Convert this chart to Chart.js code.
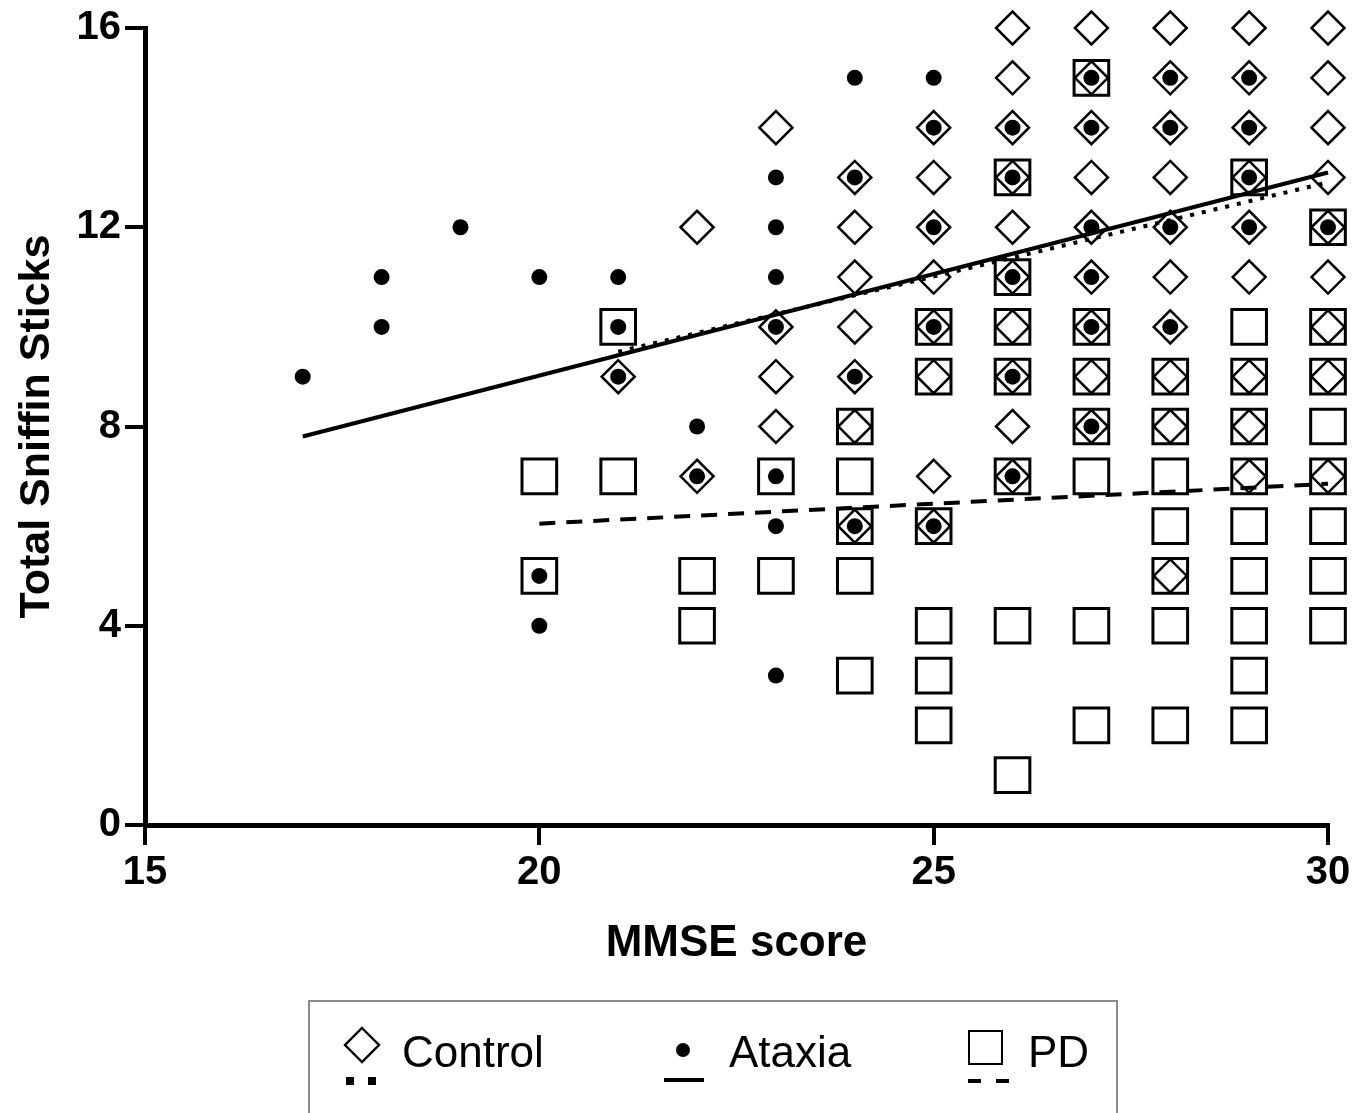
<!DOCTYPE html>
<html><head><meta charset="utf-8">
<script src="https://cdn.jsdelivr.net/npm/chart.js@4"></script>
<style>html,body{margin:0;padding:0;background:#fff;}canvas{display:block;}</style>
</head><body>
<canvas id="c" width="1367" height="1113"></canvas>
<script>
// ---- data ----
const xTicks = [15, 20, 25, 30];
const yTicks = [0, 4, 8, 12, 16];

const controlX = [21, 22, 23, 24, 25, 26, 27, 28, 29, 30];
const controlY = [
  [9],
  [12, 7],
  [14, 10, 9, 8],
  [13, 12, 11, 10, 9, 8, 6],
  [14, 13, 12, 11, 10, 9, 7, 6],
  [16, 15, 14, 13, 12, 11, 10, 9, 8, 7],
  [16, 15, 14, 13, 12, 11, 10, 9, 8],
  [16, 15, 14, 13, 12, 11, 10, 9, 8, 5],
  [16, 15, 14, 13, 12, 11, 9, 8, 7],
  [16, 15, 14, 13, 12, 11, 10, 9, 7]
];

const ataxiaX = [17, 18, 19, 20, 21, 22, 23, 24, 25, 26, 27, 28, 29, 30];
const ataxiaY = [
  [9],
  [11, 10],
  [12],
  [11, 5, 4],
  [11, 10, 9],
  [8, 7],
  [13, 12, 11, 10, 7, 6, 3],
  [15, 13, 9, 6],
  [15, 14, 12, 10, 6],
  [14, 13, 11, 9, 7],
  [15, 14, 12, 11, 10, 8],
  [15, 14, 12, 10],
  [15, 14, 13, 12],
  [12]
];

const pdX = [20, 21, 22, 23, 24, 25, 26, 27, 28, 29, 30];
const pdY = [
  [7, 5],
  [10, 7],
  [5, 4],
  [7, 5],
  [8, 7, 6, 5, 3],
  [10, 9, 6, 4, 3, 2],
  [13, 11, 10, 9, 7, 4, 1],
  [15, 10, 9, 8, 7, 4, 2],
  [9, 8, 7, 6, 5, 4, 2],
  [13, 10, 9, 8, 7, 6, 5, 4, 3, 2],
  [12, 10, 9, 8, 7, 6, 5, 4]
];

// regression lines (end points)
const controlFitX = [21, 30];
const controlFitY = [9.5, 12.9];
const ataxiaFitX = [17, 30];
const ataxiaFitY = [7.8, 13.1];
const pdFitX = [20, 30];
const pdFitY = [6.05, 6.85];

// ---- helpers ----
function cols(xs, ys) {
  const out = [];
  xs.forEach((x, i) => ys[i].forEach(y => out.push({x: x, y: y})));
  return out;
}
function pairs(xs, ys) { return xs.map((x, i) => ({x: x, y: ys[i]})); }

const FONT = "'Liberation Sans', Arial, Helvetica, sans-serif";

const legendPlugin = {
  id: 'customLegend',
  afterDraw(chart) {
    const c = chart.ctx;
    c.save();
    c.strokeStyle = '#8c8c8c';
    c.lineWidth = 2;
    c.strokeRect(309, 1001, 808, 130);
    c.strokeStyle = '#000';
    c.fillStyle = '#000';
    // Control symbol
    c.lineWidth = 2.4;
    c.beginPath();
    c.moveTo(362, 1028); c.lineTo(379, 1045); c.lineTo(362, 1062); c.lineTo(345, 1045); c.closePath();
    c.stroke();
    c.fillRect(346, 1077, 8, 8);
    c.fillRect(368, 1077, 8, 8);
    // Ataxia symbol
    c.beginPath(); c.arc(683, 1050, 7, 0, Math.PI * 2); c.fill();
    c.fillRect(664, 1078, 40, 4);
    // PD symbol
    c.lineWidth = 2;
    c.strokeRect(969, 1031, 33, 33);
    c.fillRect(968, 1079, 13, 4);
    c.fillRect(996, 1079, 13, 4);
    // texts
    c.font = '44px ' + FONT;
    c.textBaseline = 'alphabetic';
    c.textAlign = 'left';
    c.fillText('Control', 402, 1067);
    c.fillText('Ataxia', 729, 1067);
    c.fillText('PD', 1028, 1067);
    c.restore();
  }
};

new Chart(document.getElementById('c').getContext('2d'), {
  type: 'scatter',
  data: {
    datasets: [
      { label: 'Ataxia fit', type: 'line', showLine: true, data: pairs(ataxiaFitX, ataxiaFitY),
        borderColor: '#000', borderWidth: 4, pointRadius: 0, fill: false, tension: 0, order: 0, clip: false },
      { label: 'Control fit', type: 'line', showLine: true, data: pairs(controlFitX, controlFitY),
        borderColor: '#000', borderWidth: 4, borderDash: [4, 8], pointRadius: 0, fill: false, tension: 0, order: 0, clip: false },
      { label: 'PD fit', type: 'line', showLine: true, data: pairs(pdFitX, pdFitY),
        borderColor: '#000', borderWidth: 4, borderDash: [16, 11], pointRadius: 0, fill: false, tension: 0, order: 0, clip: false },
      { label: 'Ataxia', data: cols(ataxiaX, ataxiaY), pointStyle: 'circle', pointRadius: 8,
        backgroundColor: '#000', borderColor: '#000', borderWidth: 0, order: 1, clip: false },
      { label: 'Control', data: cols(controlX, controlY), pointStyle: 'rectRot', pointRadius: 16.5,
        backgroundColor: 'rgba(0,0,0,0)', borderColor: '#000', borderWidth: 2.5, order: 2, clip: false },
      { label: 'PD', data: cols(pdX, pdY), pointStyle: 'rect', pointRadius: 24.5,
        backgroundColor: 'rgba(0,0,0,0)', borderColor: '#000', borderWidth: 3, order: 3, clip: false }
    ]
  },
  options: {
    responsive: false,
    animation: false,
    events: [],
    layout: { padding: { top: 28, right: 39, left: 0, bottom: 0 } },
    plugins: { legend: { display: false }, tooltip: { enabled: false } },
    scales: {
      x: {
        type: 'linear', min: 15, max: 30,
        afterFit: s => { s.height = 288; },
        afterBuildTicks: s => { s.ticks = xTicks.map(v => ({ value: v })); },
        ticks: { color: '#000', padding: 4, maxRotation: 0, autoSkip: false,
          font: { family: FONT, size: 40, weight: 'bold' } },
        grid: { drawOnChartArea: false, drawTicks: true, tickLength: 20, tickWidth: 4, lineWidth: 4, tickColor: '#000', color: '#000' },
        border: { display: true, width: 5, color: '#000' },
        title: { display: true, text: 'MMSE score', color: '#000',
          font: { family: FONT, size: 44, weight: 'bold', lineHeight: 1.2 }, padding: { top: 0, bottom: 143 } }
      },
      y: {
        type: 'linear', min: 0, max: 16,
        afterFit: s => { s.width = 145; },
        afterBuildTicks: s => { s.ticks = yTicks.map(v => ({ value: v })); },
        ticks: { color: '#000', padding: 4, autoSkip: false,
          font: { family: FONT, size: 40, weight: 'bold' } },
        grid: { drawOnChartArea: false, drawTicks: true, tickLength: 20, tickWidth: 4, lineWidth: 4, tickColor: '#000', color: '#000' },
        border: { display: true, width: 5, color: '#000' },
        title: { display: true, text: 'Total Sniffin Sticks', color: '#000',
          font: { family: FONT, size: 43, weight: 'bold', lineHeight: 1.2 }, padding: { top: 11, bottom: 0 } }
      }
    }
  },
  plugins: [legendPlugin]
});
</script>
</body></html>
